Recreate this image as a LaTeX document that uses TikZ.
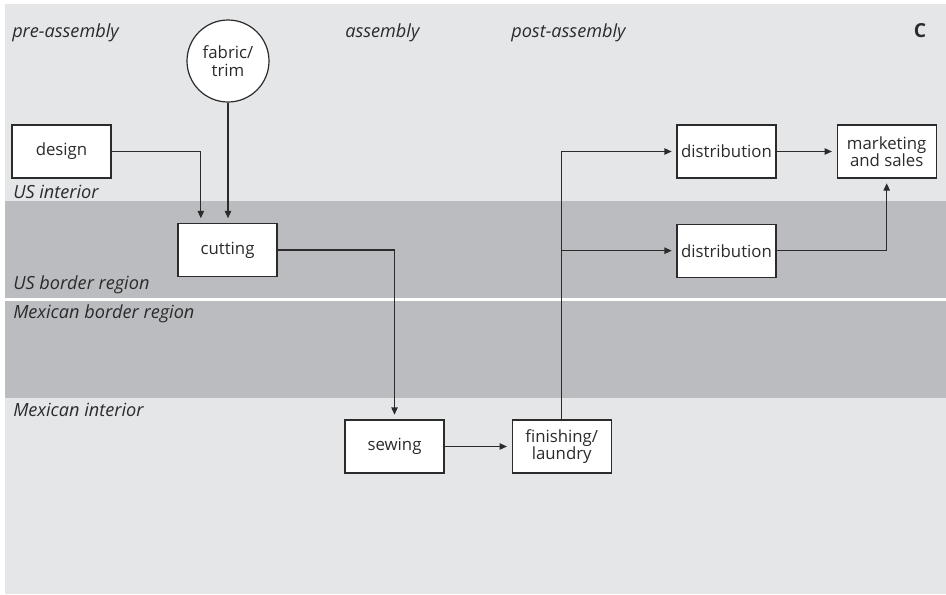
\documentclass[tikz,border=0pt]{standalone}
\usepackage{fontspec}
\setmainfont{Open Sans}
\usetikzlibrary{arrows.meta,positioning}

\definecolor{lightband}{HTML}{E5E6E8}
\definecolor{darkband}{HTML}{BBBCC0}
\definecolor{inkgray}{HTML}{2B2B2B}

\tikzset{
  stepbox/.style={draw=inkgray, fill=white, line width=0.9pt, minimum width=74.25pt,
    minimum height=39.75pt, align=center, inner sep=1pt, font=\fontsize{12.6}{13}\selectfont,
    text=inkgray},
  sourcenode/.style={draw=inkgray, fill=white, line width=0.9pt, circle, minimum size=61.5pt,
    align=center, inner sep=0pt, font=\fontsize{12.6}{13.5}\selectfont, text=inkgray},
  zonelabel/.style={anchor=base west, inner sep=0pt, font=\fontsize{13.6}{15}\selectfont\itshape,
    text=inkgray},
  flow/.style={draw=inkgray, line width=0.9pt, -{Triangle[length=5.5pt,width=4.8pt]},
    shorten >=3.5pt},
}

\begin{document}
\begin{tikzpicture}[x=0.75pt, y=-0.75pt]
  \useasboundingbox (0,0) rectangle (946,594);
  \fill[white] (0,0) rectangle (946,594);
  % regions
  \fill[lightband] (5,4) rectangle (946,201);
  \fill[darkband] (5,201) rectangle (946,298);
  \fill[darkband] (5,301) rectangle (946,398);
  \fill[lightband] (5,398) rectangle (946,594);

  % stage and region labels
  \node[zonelabel] (pre) at (12,37) {pre-assembly};
  \node[zonelabel] (asm) at (345,37) {assembly};
  \node[zonelabel] (post) at (511,37) {post-assembly};
  \node[anchor=base, inner sep=0pt, font=\fontsize{14.5}{15}\selectfont\bfseries, text=inkgray]
    (panel) at (920,37) {C};
  \node[zonelabel] (usint) at (13,198) {US interior};
  \node[zonelabel] (usbord) at (13,289) {US border region};
  \node[zonelabel] (mxbord) at (13,318) {Mexican border region};
  \node[zonelabel] (mxint) at (13,416) {Mexican interior};

  % steps
  \node[stepbox] (design) at (61.5,151.5) {design};
  \node[sourcenode] (fabric) at (228,61) {fabric/\\trim};
  \node[stepbox] (cutting) at (227.5,250) {cutting};
  \node[stepbox] (sewing) at (394.5,446.5) {sewing};
  \node[stepbox, right=50.25pt of sewing] (finish) {finishing/\\laundry};
  \node[stepbox] (dist1) at (726.5,151.5) {distribution};
  \node[stepbox, below=33.75pt of dist1] (dist2) {distribution};
  \node[stepbox, right=45pt of dist1] (market) {marketing\\and sales};

  \coordinate (cutin) at ([xshift=-20pt]cutting.north);

  % flows
  \draw[flow] (design.east) -| (cutin);
  \draw[flow] (fabric.south) -- (fabric.south |- cutting.north);
  \draw[flow] (cutting.east) -| (sewing.north);
  \draw[flow] (sewing.east) -- (finish.west);
  \draw[flow] (finish.north) |- (dist1.west);
  \draw[flow] (finish.north |- dist2.west) -- (dist2.west);
  \draw[flow] (dist1.east) -- (market.west);
  \draw[flow] (dist2.east) -| (market.south);
\end{tikzpicture}
\end{document}
